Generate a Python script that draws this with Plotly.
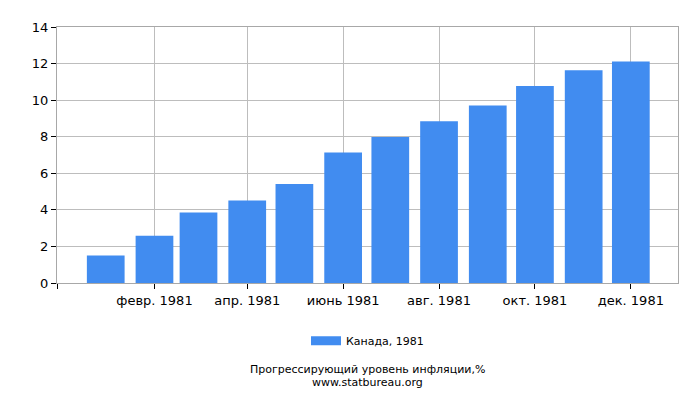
import plotly.graph_objects as go

# Данные: прогрессирующий уровень инфляции, Канада, 1981
months = ["1981-01-01", "1981-02-01", "1981-03-01", "1981-04-01",
          "1981-05-01", "1981-06-01", "1981-07-01", "1981-08-01",
          "1981-09-01", "1981-10-01", "1981-11-01", "1981-12-01"]
values = [1.50, 2.58, 3.86, 4.51, 5.42, 7.14, 7.99, 8.85, 9.71, 10.78, 11.64, 12.12]

tick_vals = ["1980-12-01", "1981-02-01", "1981-04-01", "1981-06-01",
             "1981-08-01", "1981-10-01", "1981-12-01"]
tick_text = ["", "февр. 1981", "апр. 1981", "июнь 1981",
             "авг. 1981", "окт. 1981", "дек. 1981"]

series_name = "Канада, 1981"
bar_color = "#418cf0"
font_family = "DejaVu Sans"

fig = go.Figure()

fig.add_trace(go.Bar(
    x=months,
    y=values,
    name=series_name,
    marker=dict(color=bar_color, line=dict(width=0)),
    width=24 * 86400000,
    showlegend=False,
))

# пустой трейс только для легенды (широкий прямоугольник как в оригинале)
fig.add_trace(go.Scatter(
    x=[None], y=[None],
    mode="lines",
    name=series_name,
    line=dict(color=bar_color, width=9),
    showlegend=True,
))

fig.update_layout(
    width=700,
    height=400,
    margin=dict(l=49, r=30, t=14, b=125),
    paper_bgcolor="white",
    plot_bgcolor="white",
    font=dict(family=font_family, size=13, color="#000000"),
    legend=dict(
        orientation="h",
        x=0.5, xanchor="center",
        y=-0.226, yanchor="middle",
        font=dict(size=11),
    ),
    annotations=[
        dict(text="Прогрессирующий уровень инфляции,%",
             x=0.5, xref="paper", xanchor="center",
             y=-0.337, yref="paper", yanchor="middle",
             showarrow=False, font=dict(size=11)),
        dict(text="www.statbureau.org",
             x=0.5, xref="paper", xanchor="center",
             y=-0.39, yref="paper", yanchor="middle",
             showarrow=False, font=dict(size=11)),
    ],
)

fig.update_xaxes(
    type="date",
    range=["1980-12-01", "1981-12-31"],
    tickmode="array",
    tickvals=tick_vals,
    ticktext=tick_text,
    ticks="outside",
    ticklen=5,
    tickcolor="#000000",
    showgrid=True,
    gridcolor="#bdbdbd",
    gridwidth=1,
    showline=True,
    linecolor="#a8a8a8",
    linewidth=1,
    mirror=True,
    zeroline=False,
    tickfont=dict(size=13),
)

fig.update_yaxes(
    range=[0, 14],
    dtick=2,
    ticks="outside",
    ticklen=5,
    tickcolor="#000000",
    showgrid=True,
    gridcolor="#bdbdbd",
    gridwidth=1,
    showline=True,
    linecolor="#a8a8a8",
    linewidth=1,
    mirror=True,
    zeroline=False,
    tickfont=dict(size=13),
)

fig.write_html("out.html")
